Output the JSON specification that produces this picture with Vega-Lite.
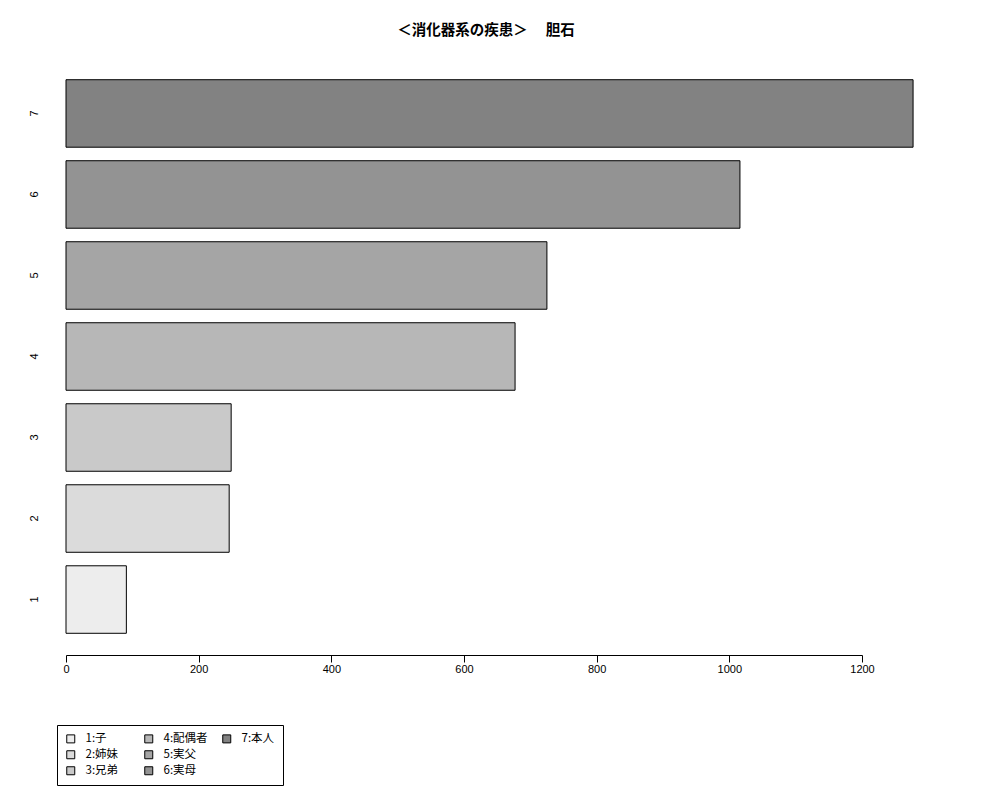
{
  "$schema": "https://vega.github.io/schema/vega-lite/v6.json",
  "description": "消化器系の疾患 胆石, count by relation",
  "autosize": "none",
  "padding": {"left": 66, "top": 58, "right": 138, "bottom": 145},
  "width": 796,
  "height": 597,
  "background": "white",
  "title": {
    "text": "＜消化器系の疾患＞　 胆石",
    "font": "Noto Sans CJK JP",
    "fontSize": 14.5,
    "fontWeight": "bold",
    "color": "black",
    "anchor": "middle",
    "frame": "group",
    "dx": 22,
    "offset": 20
  },
  "data": {
    "values": [
      {"rank": "1", "relation": "1:子", "count": 91},
      {"rank": "2", "relation": "2:姉妹", "count": 246},
      {"rank": "3", "relation": "3:兄弟", "count": 249},
      {"rank": "4", "relation": "4:配偶者", "count": 677},
      {"rank": "5", "relation": "5:実父", "count": 725},
      {"rank": "6", "relation": "6:実母", "count": 1016},
      {"rank": "7", "relation": "7:本人", "count": 1277}
    ]
  },
  "mark": {"type": "bar", "stroke": "black", "strokeWidth": 1, "clip": false},
  "encoding": {
    "y": {
      "field": "rank",
      "type": "nominal",
      "sort": "descending",
      "scale": {"paddingInner": 0.1667, "paddingOuter": 0.268},
      "axis": {
        "title": null,
        "domain": false,
        "ticks": false,
        "tickSize": 0,
        "labelAngle": -90,
        "labelPadding": 27,
        "labelFont": "Liberation Sans",
        "labelFontSize": 11,
        "labelColor": "black"
      }
    },
    "x": {
      "field": "count",
      "type": "quantitative",
      "scale": {"domain": [0, 1200], "nice": false, "clamp": false},
      "axis": {
        "title": null,
        "grid": false,
        "values": [0, 200, 400, 600, 800, 1000, 1200],
        "format": "d",
        "domainColor": "black",
        "tickColor": "black",
        "tickSize": 7,
        "labelPadding": 1,
        "labelFlush": false,
        "labelFont": "Liberation Sans",
        "labelFontSize": 11,
        "labelColor": "black"
      }
    },
    "fill": {
      "field": "relation",
      "type": "nominal",
      "scale": {
        "domain": ["1:子", "2:姉妹", "3:兄弟", "4:配偶者", "5:実父", "6:実母", "7:本人", " "],
        "range": ["#ededed", "#dbdbdb", "#c9c9c9", "#b7b7b7", "#a5a5a5", "#939393", "#828282", "#ffffff"]
      },
      "legend": {
        "title": null,
        "orient": "none",
        "direction": "vertical",
        "legendX": -9,
        "legendY": 667,
        "columns": 3,
        "gridAlign": "all",
        "columnPadding": 12,
        "rowPadding": 3,
        "padding": 8,
        "strokeColor": "black",
        "fillColor": "white",
        "cornerRadius": 0,
        "symbolType": "square",
        "symbolSize": 64,
        "symbolStrokeColor": "black",
        "symbolStrokeWidth": 1,
        "labelFont": "Noto Sans CJK JP",
        "labelFontSize": 11.5,
        "labelColor": "black",
        "labelOffset": 9,
        "encode": {
          "symbols": {"update": {"opacity": {"signal": "datum.value === ' ' ? 0 : 1"}}}
        }
      }
    }
  },
  "config": {"view": {"stroke": null}}
}
